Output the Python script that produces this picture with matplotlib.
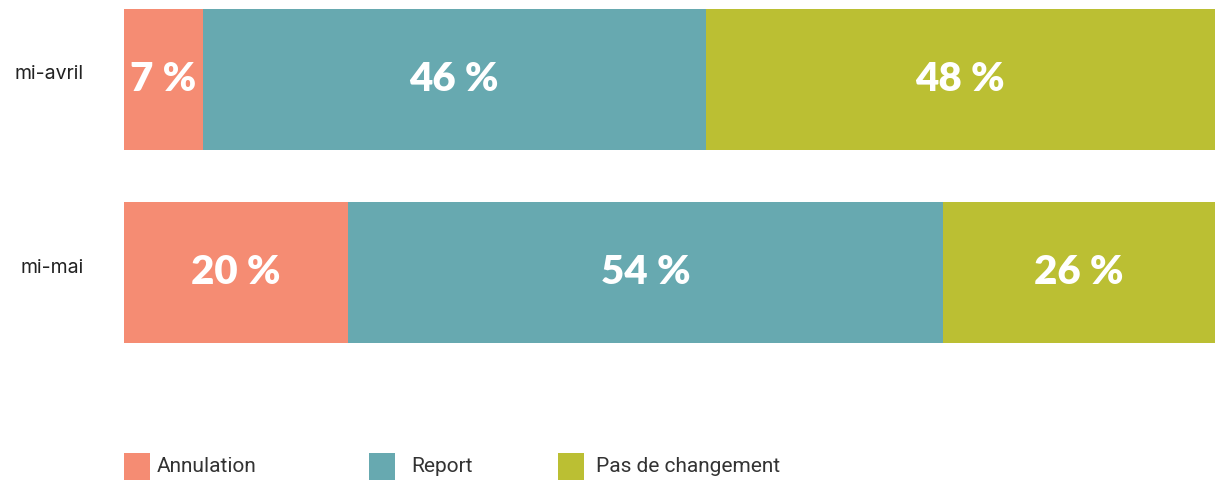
import numpy as np
import matplotlib.pyplot as plt
from matplotlib.patches import Rectangle
from matplotlib.transforms import ScaledTranslation

# survey: share of events cancelled / postponed / unchanged
periods = ['mi-avril', 'mi-mai']
categories = ['Annulation', 'Report', 'Pas de changement']
# bar widths as drawn (%), and the rounded labels printed on them
widths = np.array([[7.2, 46.1, 46.7],
                   [20.5, 54.6, 24.9]])
labels = [['7 %', '46 %', '48 %'],
          ['20 %', '54 %', '26 %']]
colors = ['#F58C73', '#67A9B0', '#BBBF33']

fig = plt.figure(figsize=(12.15, 4.8), dpi=100)
ax = fig.add_axes([124/1215, 1 - 343/480, 1 - 124/1215, 334/480])

y = np.arange(len(periods))
left = np.zeros(len(periods))
for j, cat in enumerate(categories):
    ax.barh(y, widths[:, j], left=left, height=0.73, color=colors[j], linewidth=0)
    for i in range(len(periods)):
        ax.text(left[i] + widths[i, j] / 2, y[i], labels[i][j],
                ha='center', va='center', color='white', fontsize=29,
                fontfamily='Lato', fontweight='heavy')
    left += widths[:, j]

ax.set_xlim(0, widths.sum(axis=1).max())
ax.set_ylim(1.365, -0.365)
ax.set_yticks(y)
ax.set_yticklabels(periods, fontsize=14, fontfamily='Inter', color='#222222')
ax.tick_params(axis='y', length=0, pad=29)
# labels sit a little above the bar centre
shift = ScaledTranslation(0, 7 / 100, fig.dpi_scale_trans)
for t in ax.get_yticklabels():
    t.set_transform(t.get_transform() + shift)
ax.set_xticks([])
for s in ax.spines.values():
    s.set_visible(False)

# legend placed by hand (uneven spacing in the original)
leg_x = [124, 369, 558]
txt_x = [157, 411, 596]
for j, cat in enumerate(categories):
    fig.add_artist(Rectangle((leg_x[j] / 1215, 0), 26 / 1215, 27 / 480,
                             transform=fig.transFigure, color=colors[j], lw=0))
    fig.text(txt_x[j] / 1215, 13 / 480, cat, fontsize=15,
             fontfamily='Roboto', color='#333333', va='center')

fig.savefig('out.png', dpi=100)
